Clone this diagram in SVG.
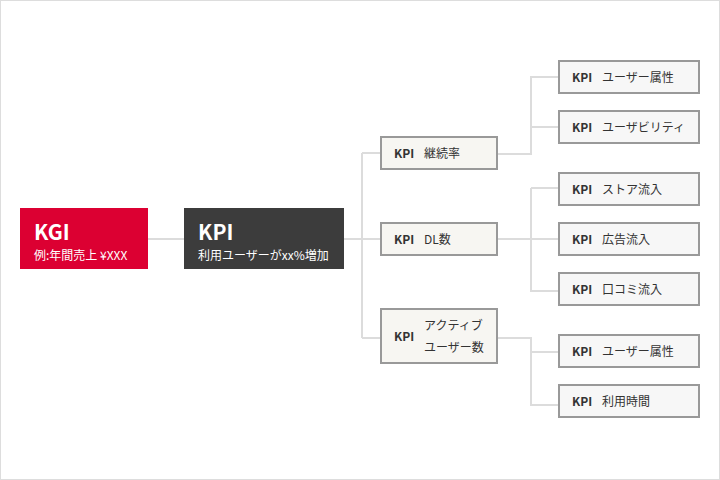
<svg xmlns="http://www.w3.org/2000/svg" width="720" height="480" viewBox="0 0 720 480">
<style>
text{font-family:"Noto Sans CJK JP","Noto Sans",sans-serif;}
.ln{fill:none;stroke:#dcdcdc;stroke-width:2;}
.mid{fill:#f7f6f2;stroke:#999;stroke-width:2;}
.leaf{fill:#f7f7f7;stroke:#999;stroke-width:2;}
.k{font-size:12px;font-weight:bold;fill:#333;}
.t{font-size:12px;fill:#333;}
.big{font-size:21px;font-weight:bold;fill:#fff;}
.sub{font-size:12px;fill:#fff;}
</style>
<rect x="0.5" y="0.5" width="719" height="479" fill="#fff" stroke="#ddd"/>
<g id="connectors">
<path class="ln" d="M148 239H184"/>
<path class="ln" d="M344 239H380M362 153V338M362 153H380M362 338H380"/>
<path class="ln" d="M497 154H531V77H558M531 127H558"/>
<path class="ln" d="M497 239H558M531 188V291H558M531 188H558"/>
<path class="ln" d="M497 338H531V405H558M531 352H558"/>
</g>
<g id="kgi">
<rect x="20" y="208" width="128" height="61" fill="#dc0032"/>
<text class="big" x="34" y="240">KGI</text>
<text class="sub" x="34" y="260">例:年間売上 ¥XXX</text>
</g>
<g id="kpi-main">
<rect x="184" y="208" width="160" height="61" fill="#3c3c3c"/>
<text class="big" x="198" y="240">KPI</text>
<text class="sub" x="198" y="260">利用ユーザーがxx%増加</text>
</g>
<g id="kpi-retention">
<rect class="mid" x="381" y="137" width="116" height="32"/>
<text class="k" x="394" y="158">KPI</text>
<text class="t" x="424" y="158">継続率</text>
</g>
<g id="kpi-dl">
<rect class="mid" x="381" y="223" width="116" height="32"/>
<text class="k" x="394" y="244">KPI</text>
<text class="t" x="424" y="244">DL数</text>
</g>
<g id="kpi-active">
<rect class="mid" x="381" y="309" width="116" height="54"/>
<text class="k" x="394" y="341">KPI</text>
<text class="t" x="424" y="330">アクティブ</text>
<text class="t" x="424" y="352">ユーザー数</text>
</g>
<g id="leaf1">
<rect class="leaf" x="559" y="61" width="140" height="32"/>
<text class="k" x="572" y="82">KPI</text>
<text class="t" x="602" y="82">ユーザー属性</text>
</g>
<g id="leaf2">
<rect class="leaf" x="559" y="111" width="140" height="32"/>
<text class="k" x="572" y="132">KPI</text>
<text class="t" x="602" y="132">ユーザビリティ</text>
</g>
<g id="leaf3">
<rect class="leaf" x="559" y="173" width="140" height="32"/>
<text class="k" x="572" y="194">KPI</text>
<text class="t" x="602" y="194">ストア流入</text>
</g>
<g id="leaf4">
<rect class="leaf" x="559" y="223" width="140" height="32"/>
<text class="k" x="572" y="244">KPI</text>
<text class="t" x="602" y="244">広告流入</text>
</g>
<g id="leaf5">
<rect class="leaf" x="559" y="273" width="140" height="32"/>
<text class="k" x="572" y="294">KPI</text>
<text class="t" x="602" y="294">口コミ流入</text>
</g>
<g id="leaf6">
<rect class="leaf" x="559" y="335" width="140" height="32"/>
<text class="k" x="572" y="356">KPI</text>
<text class="t" x="602" y="356">ユーザー属性</text>
</g>
<g id="leaf7">
<rect class="leaf" x="559" y="385" width="140" height="32"/>
<text class="k" x="572" y="406">KPI</text>
<text class="t" x="602" y="406">利用時間</text>
</g>
</svg>
